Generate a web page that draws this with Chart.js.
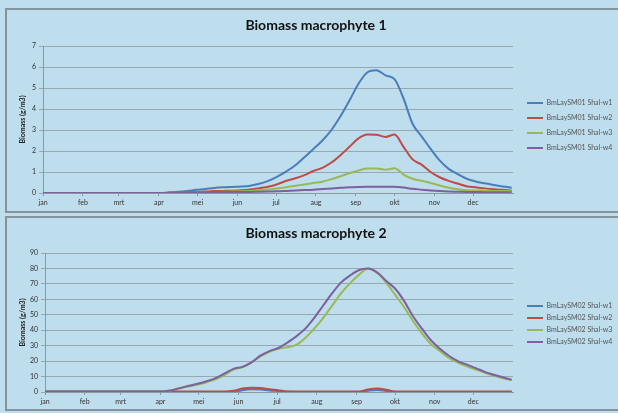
<!DOCTYPE html>
<html>
<head>
<meta charset="utf-8">
<script src="https://cdn.jsdelivr.net/npm/chart.js@4.4.0/dist/chart.umd.min.js"></script>
<style>
  body { margin: 0; background: #bedded; width: 618px; height: 413px; overflow: hidden; position: relative; }
  .panel { position: absolute; left: 5px; width: 620px; border: 2px solid #85949c; }
  #panel-1 { top: 8px; height: 201px; }
  #panel-2 { top: 216px; height: 191px; }
  canvas { display: block; }
</style>
</head>
<body>
<div class="panel" id="panel-1"><canvas id="chart-1" width="610" height="201"></canvas></div>
<div class="panel" id="panel-2"><canvas id="chart-2" width="610" height="191"></canvas></div>
<script>
// x axis: day of year, labelled at the first day of each month
const monthNames = ["jan", "feb", "mrt", "apr", "mei", "jun", "jul", "aug", "sep", "okt", "nov", "dec"];
const monthStarts = [0, 31, 59, 90, 120, 151, 181, 212, 243, 273, 304, 334];

// weekly sample days
const days = [0, 7, 14, 21, 28, 35, 42, 49, 56, 63, 70, 77, 84, 91, 98, 105, 112, 119, 126, 133,
  140, 147, 154, 161, 168, 175, 182, 189, 196, 203, 210, 217, 224, 231, 238, 245, 252, 259, 266,
  273, 280, 287, 294, 301, 308, 315, 322, 329, 336, 343, 350, 357, 364];

// Biomass macrophyte 1 (g/m3)
const bm1_w1 = [0, 0, 0, 0, 0, 0, 0, 0, 0, 0, 0, 0, 0, 0,
  0.03, 0.06, 0.1, 0.15, 0.19, 0.24, 0.27, 0.29, 0.31, 0.35,
  0.44, 0.58, 0.78, 1.03, 1.32, 1.7, 2.1, 2.5, 3.0, 3.65,
  4.4, 5.2, 5.75, 5.85, 5.6, 5.42, 4.5, 3.3, 2.7, 2.1,
  1.55, 1.15, 0.9, 0.68, 0.55, 0.46, 0.38, 0.31, 0.25];
const bm1_w2 = [0, 0, 0, 0, 0, 0, 0, 0, 0, 0, 0, 0, 0, 0,
  0.01, 0.02, 0.04, 0.05, 0.07, 0.09, 0.1, 0.11, 0.13, 0.17,
  0.23, 0.3, 0.42, 0.58, 0.7, 0.85, 1.05, 1.2, 1.45, 1.8,
  2.2, 2.6, 2.78, 2.77, 2.67, 2.78, 2.2, 1.6, 1.35, 1.0,
  0.75, 0.58, 0.45, 0.32, 0.27, 0.22, 0.18, 0.15, 0.12];
const bm1_w3 = [0, 0, 0, 0, 0, 0, 0, 0, 0, 0, 0, 0, 0, 0,
  0.01, 0.01, 0.02, 0.03, 0.04, 0.05, 0.06, 0.07, 0.08, 0.1,
  0.13, 0.17, 0.21, 0.27, 0.34, 0.41, 0.48, 0.54, 0.66, 0.8,
  0.94, 1.07, 1.17, 1.17, 1.11, 1.18, 0.88, 0.68, 0.58, 0.48,
  0.36, 0.25, 0.18, 0.13, 0.12, 0.11, 0.1, 0.1, 0.1];
const bm1_w4 = [0, 0, 0, 0, 0, 0, 0, 0, 0, 0, 0, 0, 0, 0,
  0.01, 0.02, 0.03, 0.04, 0.04, 0.05, 0.05, 0.05, 0.05, 0.05,
  0.06, 0.07, 0.08, 0.1, 0.12, 0.14, 0.16, 0.19, 0.22, 0.25,
  0.27, 0.29, 0.3, 0.3, 0.3, 0.3, 0.26, 0.2, 0.16, 0.12,
  0.09, 0.07, 0.06, 0.05, 0.05, 0.04, 0.04, 0.04, 0.04];

// Biomass macrophyte 2 (g/m3)
const bm2_w1 = [0, 0, 0, 0, 0, 0, 0, 0, 0, 0, 0, 0, 0, 0, 0, 0, 0, 0, 0, 0, 0, 0,
  1.2, 1.8, 1.6, 1.0, 0.6, 0.1,
  0, 0, 0, 0, 0, 0, 0, 0,
  0.8, 1.3, 0.7,
  0, 0, 0, 0, 0, 0, 0, 0, 0, 0, 0, 0, 0, 0];
const bm2_w2 = [0.3, 0.3, 0.3, 0.3, 0.3, 0.3, 0.3, 0.3, 0.3, 0.3, 0.3, 0.3, 0.3, 0.3, 0.3, 0.3, 0.3, 0.3, 0.3, 0.3, 0.3,
  0.8, 2.2, 2.8, 2.6, 1.8, 1.2, 0.4,
  0.3, 0.3, 0.3, 0.3, 0.3, 0.3, 0.3, 0.3,
  1.6, 2.2, 1.5,
  0.3, 0.3, 0.3, 0.3, 0.3, 0.3, 0.3, 0.3, 0.3, 0.3, 0.3, 0.3, 0.3, 0.3];
const bm2_w3 = [0.3, 0.3, 0.3, 0.3, 0.3, 0.3, 0.3, 0.3, 0.3, 0.3, 0.3, 0.3, 0.3, 0.3,
  1, 2.3, 3.6, 4.8, 6.3, 8.2, 11, 14.5, 16, 19,
  23, 26, 28, 29, 30.5, 35, 41, 48, 56, 64,
  70.5, 76, 80, 77, 71, 63, 55, 46, 38, 31,
  26.5, 22, 19, 16.6, 14.5, 12.5, 10.7, 9, 7.6];
const bm2_w4 = [0.3, 0.3, 0.3, 0.3, 0.3, 0.3, 0.3, 0.3, 0.3, 0.3, 0.3, 0.3, 0.3, 0.3,
  1, 2.5, 4, 5.3, 7, 9, 12, 15, 16.3, 19.2,
  23.5, 26.5, 28.5, 32, 36, 41, 48, 56, 64, 71,
  75.5, 79, 80, 77.5, 72, 67, 59, 49, 41, 33.5,
  28, 23.5, 20, 17.7, 15.5, 13, 11.2, 9.5, 8];

const names1 = ["BmLaySM01 Shal-w1", "BmLaySM01 Shal-w2", "BmLaySM01 Shal-w3", "BmLaySM01 Shal-w4"];
const names2 = ["BmLaySM02 Shal-w1", "BmLaySM02 Shal-w2", "BmLaySM02 Shal-w3", "BmLaySM02 Shal-w4"];
const seriesColors = ["#4a7ebb", "#be4b48", "#98b954", "#7d60a0"];

Chart.defaults.font.family = "Lato";
Chart.defaults.color = "#333";

// fixes the legend width and nudges it into place
const legendTweak = {
  id: "legendTweak",
  beforeLayout(chart, args, opts) {
    const legend = chart.legend;
    if (!legend || legend._tweaked) return;
    const fit = legend.fit;
    legend.fit = function () {
      fit.call(this);
      this.width = opts.width;
    };
    legend._tweaked = true;
  },
  afterLayout(chart, args, opts) {
    const legend = chart.legend;
    legend.left += opts.dx;
    legend.right += opts.dx;
    legend.top += opts.dy;
    legend.bottom += opts.dy;
  },
};

function makeChart(id, title, series, names, yMax, yStep, cfg) {
  const datasets = series.map(function (values, i) {
    return {
      label: names[i],
      data: days.map(function (d, j) {
        return { x: d, y: values[j] };
      }),
      borderColor: seriesColors[i],
      backgroundColor: seriesColors[i],
      borderWidth: 2,
      pointRadius: 0,
      cubicInterpolationMode: "monotone",
      order: series.length - i, // later series on top, as in Excel
    };
  });

  return new Chart(id, {
    type: "line",
    data: { datasets: datasets },
    options: {
      responsive: false,
      animation: false,
      layout: { padding: { left: 8 } },
      scales: {
        x: {
          type: "linear",
          min: 0,
          max: 365,
          afterBuildTicks: function (scale) {
            scale.ticks = monthStarts.map(function (v) {
              return { value: v };
            });
          },
          afterFit: function (scale) {
            scale.height = cfg.xHeight;
          },
          ticks: {
            autoSkip: false,
            maxRotation: 0,
            padding: 3,
            font: { size: 7 },
            callback: function (v, i) {
              return monthNames[i];
            },
          },
          grid: { drawOnChartArea: false, tickLength: 3, color: "#8a9aa3" },
          border: { color: "#8a9aa3" },
        },
        y: {
          min: 0,
          max: yMax,
          afterFit: function (scale) {
            scale.width = cfg.yWidth;
          },
          ticks: { stepSize: yStep, padding: 3, font: { size: 7 } },
          grid: { color: "#97a8b2", tickLength: 4 },
          border: { color: "#8a9aa3" },
          title: {
            display: true,
            text: "Biomass (g/m3)",
            color: "#222",
            font: { size: 7, weight: "bold" },
          },
        },
      },
      plugins: {
        title: {
          display: true,
          text: title,
          color: "#111",
          font: { size: 14, weight: "bold" },
          padding: { top: cfg.titleTop, bottom: cfg.titleBottom },
        },
        legend: {
          position: "right",
          fullSize: false,
          labels: {
            usePointStyle: true,
            pointStyle: "line",
            pointStyleWidth: 16,
            padding: cfg.legendPad,
            color: "#555",
            font: { size: 7 },
            sort: function (a, b) {
              return a.datasetIndex - b.datasetIndex;
            },
          },
        },
        legendTweak: { width: 104, dx: cfg.dx, dy: cfg.dy },
        tooltip: { enabled: false },
      },
    },
    plugins: [legendTweak],
  });
}

makeChart("chart-1", "Biomass macrophyte 1", [bm1_w1, bm1_w2, bm1_w3, bm1_w4], names1, 7, 1, {
  xHeight: 18, yWidth: 28, titleTop: 6.6, titleBottom: 12.6, legendPad: 8, dx: 6, dy: 6,
});
makeChart("chart-2", "Biomass macrophyte 2", [bm2_w1, bm2_w2, bm2_w3, bm2_w4], names2, 90, 10, {
  xHeight: 17, yWidth: 30, titleTop: 6.6, titleBottom: 11.6, legendPad: 5, dx: 9, dy: 1.5,
});
</script>
</body>
</html>
